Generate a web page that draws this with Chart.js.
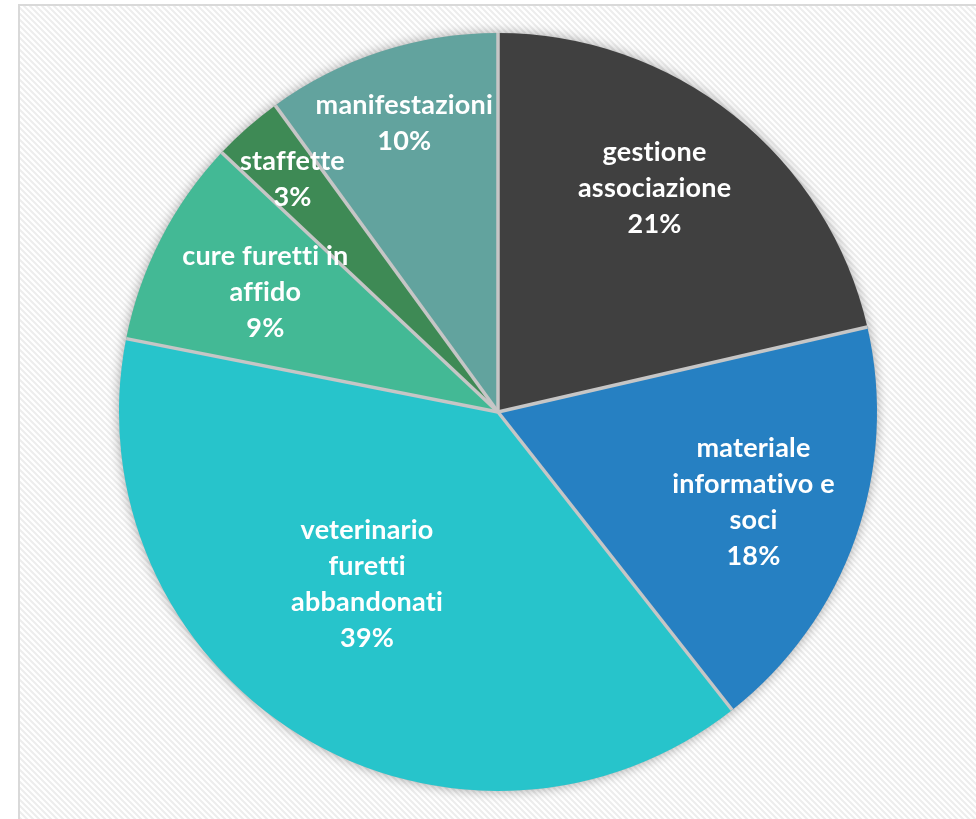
<!DOCTYPE html>
<html>
<head>
<meta charset="utf-8">
<script src="https://cdn.jsdelivr.net/npm/chart.js@4/dist/chart.umd.min.js"></script>
<style>
  body { margin: 0; background: #fff; }
  #wrap { width: 976px; height: 819px; }
</style>
</head>
<body>
<div id="wrap"><canvas id="pieChart" width="976" height="819"></canvas></div>
<script>
// categories (each one split in the lines shown in the slice)
const categories = [
  ["gestione", "associazione"],
  ["materiale", "informativo e", "soci"],
  ["veterinario", "furetti", "abbandonati"],
  ["cure furetti in", "affido"],
  ["staffette"],
  ["manifestazioni"],
];
// share of expenses, percent
const shares = [21.4, 18.0, 38.7, 8.9, 3.0, 10.0];
const sliceColors = ["#404040", "#2680c2", "#27c4cb", "#43b995", "#3e8a55", "#62a39e"];
// where the label sits: fraction of the radius, and a small turn (deg) off the mid angle
const labelRadius = [0.72, 0.715, 0.57, 0.69, 0.82, 0.8];
const labelTurn = [-3.5, 0, 5.8, 0, 0, 0];

// hatched background pattern
function makePattern(ctx) {
  const p = document.createElement("canvas");
  p.width = 6;
  p.height = 6;
  const pc = p.getContext("2d");
  pc.fillStyle = "#ffffff";
  pc.fillRect(0, 0, 6, 6);
  pc.strokeStyle = "#ededed";
  pc.lineWidth = 2;
  pc.beginPath();
  pc.moveTo(-3, -3); pc.lineTo(9, 9);
  pc.moveTo(-9, -3); pc.lineTo(3, 9);
  pc.moveTo(3, -3); pc.lineTo(15, 9);
  pc.stroke();
  return ctx.createPattern(p, "repeat");
}

const backgroundPlugin = {
  id: "hatchBackground",
  beforeDraw(chart) {
    const ctx = chart.ctx;
    ctx.save();
    ctx.fillStyle = "#ffffff";
    ctx.fillRect(0, 0, chart.width, chart.height);
    ctx.fillStyle = makePattern(ctx);
    ctx.fillRect(20, 6, chart.width, chart.height);
    ctx.strokeStyle = "#d9d9d9";
    ctx.lineWidth = 2;
    ctx.strokeRect(19, 5, chart.width + 10, chart.height + 10);
    ctx.restore();
  },
};

// soft shadow under the pie
const shadowPlugin = {
  id: "pieShadow",
  beforeDatasetsDraw(chart) {
    const arc = chart.getDatasetMeta(0).data[0];
    if (!arc) return;
    const ctx = chart.ctx;
    ctx.save();
    ctx.shadowColor = "rgba(0,0,0,0.35)";
    ctx.shadowBlur = 12;
    ctx.fillStyle = "#bfbfbf";
    ctx.beginPath();
    ctx.arc(arc.x, arc.y, arc.outerRadius, 0, Math.PI * 2);
    ctx.fill();
    ctx.restore();
  },
};

// separators between slices and the labels inside them
const labelPlugin = {
  id: "sliceLabels",
  afterDatasetsDraw(chart) {
    const ctx = chart.ctx;
    const arcs = chart.getDatasetMeta(0).data;
    const total = shares.reduce((a, b) => a + b, 0);
    ctx.save();
    ctx.strokeStyle = "#c6c6c6";
    ctx.lineWidth = 3.5;
    ctx.lineCap = "butt";
    arcs.forEach((arc) => {
      ctx.beginPath();
      ctx.moveTo(arc.x, arc.y);
      ctx.lineTo(arc.x + Math.cos(arc.startAngle) * arc.outerRadius,
                 arc.y + Math.sin(arc.startAngle) * arc.outerRadius);
      ctx.stroke();
    });
    ctx.fillStyle = "#ffffff";
    ctx.font = "bold 27px Lato";
    ctx.letterSpacing = "0.2px"; // keeps Lato from joining "ti" / "ffi"
    ctx.textAlign = "center";
    ctx.textBaseline = "middle";
    const lineH = 36;
    arcs.forEach((arc, i) => {
      const mid = (arc.startAngle + arc.endAngle) / 2 + labelTurn[i] * Math.PI / 180;
      const r = arc.outerRadius * labelRadius[i];
      const cx = arc.x + Math.cos(mid) * r;
      const cy = arc.y + Math.sin(mid) * r;
      const lines = categories[i].concat(Math.round(shares[i] / total * 100) + "%");
      const top = cy - (lines.length - 1) * lineH / 2;
      lines.forEach((t, k) => ctx.fillText(t, cx, top + k * lineH));
    });
    ctx.restore();
  },
};

new Chart(document.getElementById("pieChart"), {
  type: "pie",
  data: {
    labels: categories,
    datasets: [
      {
        data: shares,
        backgroundColor: sliceColors,
        borderWidth: 0,
        hoverOffset: 0,
      },
    ],
  },
  options: {
    responsive: false,
    animation: false,
    layout: { padding: { left: 119, right: 99, top: 33, bottom: 28 } },
    plugins: {
      legend: { display: false },
      tooltip: { enabled: false },
    },
  },
  plugins: [backgroundPlugin, shadowPlugin, labelPlugin],
});
</script>
</body>
</html>
